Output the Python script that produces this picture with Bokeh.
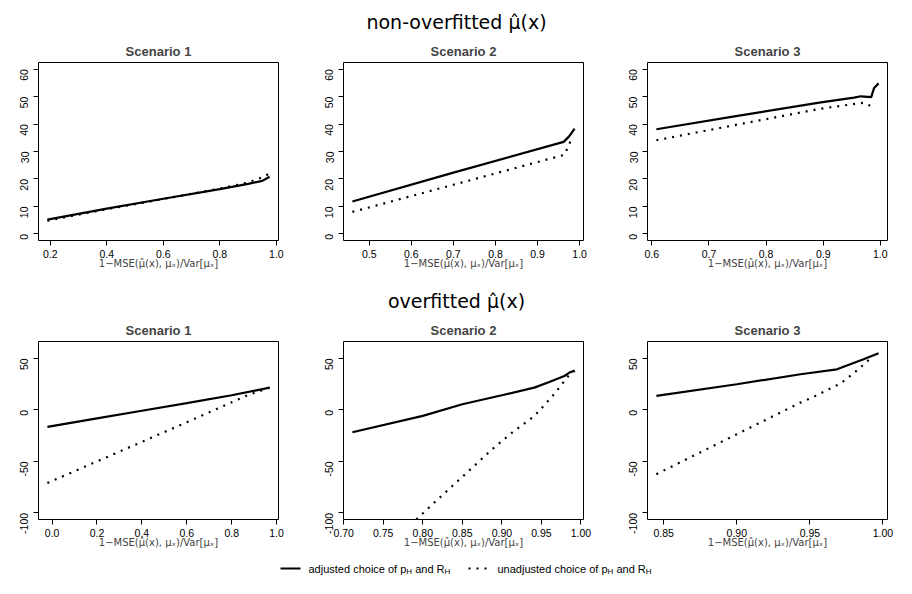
import math
from bokeh.plotting import figure
from bokeh.models import Range1d, FixedTicker, Label
from bokeh.layouts import column, row
from bokeh.embed import file_html
from bokeh.resources import INLINE

FONT = "Liberation Sans"
MATH_FONT = "DejaVu Sans"

# ---------------- data ----------------
MAIN_TITLES = ["non-overfitted \u03bc\u0302(x)", "overfitted \u03bc\u0302(x)"]
SCENARIOS = ["Scenario 1", "Scenario 2", "Scenario 3"]
XLAB = "1\u2212MSE(\u03bc\u0302(x), \u03bc\u2093)/Var[\u03bc\u2093]"
LEG_ADJ = [("adjusted choice of p", False), ("H", True), ("and R", False), ("H", True)]
LEG_UNADJ = [("unadjusted choice of p", False), ("H", True), ("and R", False), ("H", True)]

# non-overfitted, scenario 1
t1_adj_x = [0.19, 0.40, 0.60, 0.80, 0.90, 0.95, 0.976]
t1_adj_y = [5.2, 9.2, 12.8, 16.3, 18.2, 19.3, 20.8]
t1_un_x = [0.19, 0.40, 0.60, 0.80, 0.90, 0.95, 0.976]
t1_un_y = [4.8, 9.0, 12.7, 16.5, 18.7, 20.6, 22.0]
# non-overfitted, scenario 2
t2_adj_x = [0.46, 0.70, 0.962, 0.975, 0.988]
t2_adj_y = [11.8, 22.3, 33.5, 35.5, 38.3]
t2_un_x = [0.46, 0.70, 0.964, 0.975, 0.982]
t2_un_y = [8.0, 17.9, 28.8, 32.5, 35.3]
# non-overfitted, scenario 3
t3_adj_x = [0.608, 0.75, 0.896, 0.954, 0.966, 0.978, 0.984, 0.989, 0.997]
t3_adj_y = [38.1, 43.0, 47.9, 49.6, 50.1, 49.9, 49.8, 53.1, 54.8]
t3_un_x = [0.608, 0.75, 0.896, 0.972, 0.985]
t3_un_y = [34.1, 39.8, 45.6, 47.8, 46.3]

# overfitted, scenario 1
b1_adj_x = [-0.021, 0.20, 0.40, 0.60, 0.80, 0.969]
b1_adj_y = [-16.5, -8.3, -0.8, 6.6, 14.2, 21.6]
b1_un_x = [-0.021, 0.20, 0.453, 0.70, 0.87, 0.969]
b1_un_y = [-71.0, -50.0, -26.0, -2.4, 14.2, 21.6]
# overfitted, scenario 2
b2_adj_x = [0.711, 0.80, 0.85, 0.90, 0.941, 0.96, 0.979, 0.985, 0.992]
b2_adj_y = [-21.7, -5.8, 5.5, 14.2, 21.6, 27.0, 32.9, 36.0, 38.3]
b2_un_x = [0.711, 0.75, 0.791, 0.816, 0.85, 0.888, 0.913, 0.941, 0.953, 0.968, 0.977, 0.983, 0.992]
b2_un_y = [-165.0, -136.0, -107.0, -89.0, -65.0, -38.0, -22.0, -6.0, 4.0, 17.0, 26.0, 32.0, 38.0]
# overfitted, scenario 3
b3_adj_x = [0.845, 0.90, 0.9436, 0.9685, 0.9867, 0.997]
b3_adj_y = [13.6, 24.9, 34.6, 39.4, 49.1, 55.0]
b3_un_x = [0.845, 0.90, 0.9436, 0.9537, 0.9651, 0.9708, 0.9799, 0.9856, 0.9902]
b3_un_y = [-62.4, -23.6, 7.1, 13.5, 21.6, 25.5, 35.5, 42.6, 48.4]

# axis limits and ticks
TOP_YLIM = [0, 60]
TOP_YTICKS = [0, 10, 20, 30, 40, 50, 60]
TOP_YLABELS = ["0", "10", "20", "30", "40", "50", "60"]
BOT_YLIM = [-100, 60]
BOT_YTICKS = [-100, -50, 0, 50]
BOT_YLABELS = ["-100", "-50", "0", "50"]

t1_xticks = [0.2, 0.4, 0.6, 0.8, 1.0]
t1_xlabels = ["0.2", "0.4", "0.6", "0.8", "1.0"]
t2_xticks = [0.5, 0.6, 0.7, 0.8, 0.9, 1.0]
t2_xlabels = ["0.5", "0.6", "0.7", "0.8", "0.9", "1.0"]
t3_xticks = [0.6, 0.7, 0.8, 0.9, 1.0]
t3_xlabels = ["0.6", "0.7", "0.8", "0.9", "1.0"]
b1_xticks = [0.0, 0.2, 0.4, 0.6, 0.8, 1.0]
b1_xlabels = ["0.0", "0.2", "0.4", "0.6", "0.8", "1.0"]
b2_xticks = [0.70, 0.75, 0.80, 0.85, 0.90, 0.95, 1.00]
b2_xlabels = ["0.70", "0.75", "0.80", "0.85", "0.90", "0.95", "1.00"]
b3_xticks = [0.85, 0.90, 0.95, 1.00]
b3_xlabels = ["0.85", "0.90", "0.95", "1.00"]

# ---------------- layout constants ----------------
TOTAL_W = 912
COL_W = [310, 305, 297]
BORDER_L = [38, 33, 32]
BORDER_R = [32, 32, 25]
TICK_FONT = "10.5px"
DOT = "2 6"
LW = 2.2


def panel(col, height, b_top, b_bottom, title, ax, ay, ux, uy, ylim, yticks, ylabels, xticks, xlabels):
    xlo = min(min(ax), min(ux))
    xhi = max(max(ax), max(ux))
    xpad = 0.04 * (xhi - xlo)
    ypad = 0.04 * (ylim[1] - ylim[0])
    p = figure(width=COL_W[col], height=height,
               x_range=Range1d(xlo - xpad, xhi + xpad),
               y_range=Range1d(ylim[0] - ypad, ylim[1] + ypad),
               output_backend="svg", toolbar_location=None,
               min_border_left=BORDER_L[col], min_border_right=BORDER_R[col],
               min_border_top=b_top, min_border_bottom=b_bottom)
    p.title.text = title
    p.title.align = "center"
    p.title.text_font = FONT
    p.title.text_font_size = "13px"
    p.title.text_font_style = "bold"
    p.title.standoff = 7
    p.xgrid.visible = False
    p.ygrid.visible = False
    p.outline_line_color = "black"
    p.outline_line_alpha = 1
    p.outline_line_width = 1
    p.background_fill_color = "white"
    p.border_fill_color = "white"

    xa = p.xaxis[0]
    xa.ticker = FixedTicker(ticks=xticks)
    xa.major_label_overrides = {t: l for t, l in zip(xticks, xlabels)}
    xa.axis_label = XLAB
    xa.axis_label_text_font = MATH_FONT
    xa.axis_label_text_font_size = "10px"
    xa.axis_label_text_font_style = "normal"
    xa.axis_label_standoff = -3
    xa.major_label_standoff = 4

    ya = p.yaxis[0]
    ya.ticker = FixedTicker(ticks=yticks)
    ya.major_label_overrides = {t: l for t, l in zip(yticks, ylabels)}
    ya.major_label_orientation = math.pi / 2
    ya.major_label_standoff = 9

    for a in (xa, ya):
        a.axis_line_color = None
        a.major_tick_line_color = "black"
        a.major_tick_out = 5
        a.major_tick_in = 0
        a.minor_tick_line_color = None
        a.major_label_text_font = FONT
        a.major_label_text_font_size = TICK_FONT
        a.major_label_text_color = "black"

    p.line(ax, ay, line_color="black", line_width=LW)
    p.line(ux, uy, line_color="black", line_width=LW, line_dash=DOT)
    return p


def blank(height):
    h = figure(width=TOTAL_W, height=height, x_range=Range1d(0, TOTAL_W), y_range=Range1d(0, height),
               x_axis_type=None, y_axis_type=None, output_backend="svg",
               toolbar_location=None, min_border=0, title=None)
    h.xgrid.visible = False
    h.ygrid.visible = False
    h.outline_line_color = None
    return h


def header(text, height, middle):
    h = blank(height)
    h.add_layout(Label(x=TOTAL_W / 2, y=height - middle, text=text, text_align="center",
                       text_baseline="middle", text_font=MATH_FONT, text_font_size="19px",
                       text_color="black"))
    return h


TOP_H, TOP_BT, TOP_BB = 244, 26, 40
BOT_H, BOT_BT, BOT_BB = 242, 27, 37

top = [
    panel(0, TOP_H, TOP_BT, TOP_BB, SCENARIOS[0], t1_adj_x, t1_adj_y, t1_un_x, t1_un_y,
          TOP_YLIM, TOP_YTICKS, TOP_YLABELS, t1_xticks, t1_xlabels),
    panel(1, TOP_H, TOP_BT, TOP_BB, SCENARIOS[1], t2_adj_x, t2_adj_y, t2_un_x, t2_un_y,
          TOP_YLIM, TOP_YTICKS, TOP_YLABELS, t2_xticks, t2_xlabels),
    panel(2, TOP_H, TOP_BT, TOP_BB, SCENARIOS[2], t3_adj_x, t3_adj_y, t3_un_x, t3_un_y,
          TOP_YLIM, TOP_YTICKS, TOP_YLABELS, t3_xticks, t3_xlabels),
]
bot = [
    panel(0, BOT_H, BOT_BT, BOT_BB, SCENARIOS[0], b1_adj_x, b1_adj_y, b1_un_x, b1_un_y,
          BOT_YLIM, BOT_YTICKS, BOT_YLABELS, b1_xticks, b1_xlabels),
    panel(1, BOT_H, BOT_BT, BOT_BB, SCENARIOS[1], b2_adj_x, b2_adj_y, b2_un_x, b2_un_y,
          BOT_YLIM, BOT_YTICKS, BOT_YLABELS, b2_xticks, b2_xlabels),
    panel(2, BOT_H, BOT_BT, BOT_BB, SCENARIOS[2], b3_adj_x, b3_adj_y, b3_un_x, b3_un_y,
          BOT_YLIM, BOT_YTICKS, BOT_YLABELS, b3_xticks, b3_xlabels),
]

h1 = header(MAIN_TITLES[0], 36, 21)
h2 = header(MAIN_TITLES[1], 34, 20)

# legend strip (coordinates here are pixels of the strip)
LEG_H = 38
leg = blank(LEG_H)
KEY_Y = LEG_H - 12
TXT_Y = KEY_Y
SUB_Y = KEY_Y - 3
leg.segment(x0=[280], y0=[KEY_Y], x1=[300], y1=[KEY_Y], line_color="black", line_width=LW)
leg.segment(x0=[468], y0=[KEY_Y], x1=[489], y1=[KEY_Y], line_color="black", line_width=LW, line_dash=DOT)

# widths from Arial/Liberation Sans metrics (per 1000 em)
GLYPH_W = {'a': 556, 'd': 556, 'j': 222, 'u': 556, 's': 500, 't': 278, 'e': 556, ' ': 278,
           'c': 500, 'h': 556, 'o': 556, 'i': 222, 'f': 278, 'p': 556, 'n': 556, 'R': 722, 'H': 722}


def leg_text(x0, parts):
    x = x0
    prev_sub = False
    for part, sub in parts:
        size = 8 if sub else 11
        if prev_sub and not sub:
            x += GLYPH_W[' '] * 11 / 1000.0
        leg.add_layout(Label(x=x, y=SUB_Y if sub else TXT_Y, text=part, text_align="left",
                             text_baseline="middle", text_font=FONT,
                             text_font_size=f"{size}px", text_color="black"))
        x += sum(GLYPH_W.get(c, 556) for c in part) * size / 1000.0
        prev_sub = sub


leg_text(308, LEG_ADJ)
leg_text(497, LEG_UNADJ)

layout = column(h1, row(*top), h2, row(*bot), leg)
open("out.html", "w").write(file_html(layout, INLINE))
